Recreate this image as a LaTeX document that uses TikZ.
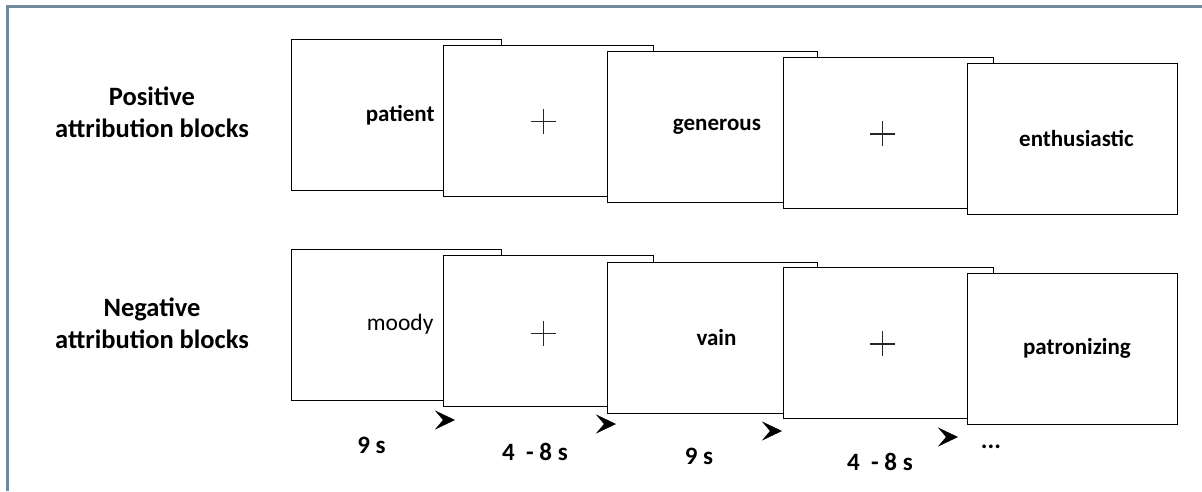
\documentclass[tikz,border=0pt]{standalone}
\usepackage{fontspec}
\setmainfont{Carlito}
\usetikzlibrary{arrows.meta, positioning}
\definecolor{framegray}{HTML}{6F8B99}

\begin{document}
\begin{tikzpicture}[
    x=1pt, y=-1pt,
    slide/.style={draw=black, line width=0.9pt, fill=white, minimum width=210pt, minimum height=151pt, anchor=north west, inner sep=0pt},
    word/.style={font=\fontsize{23}{27}\selectfont\bfseries, inner sep=0pt},
    plainword/.style={font=\fontsize{23.5}{27}\selectfont, inner sep=0pt},
    blocklbl/.style={align=center, font=\fontsize{26.5}{31.6}\selectfont\bfseries, inner sep=0pt},
    timelbl/.style={font=\fontsize{25}{28}\selectfont\bfseries, inner sep=0pt},
    fixline/.style={line width=1.1pt, black!85},
    tick/.style={-{Stealth[length=20pt, width=19pt, inset=8pt]}, line width=0.4pt, black},
]
    \useasboundingbox (0,0) rectangle (1202,491);

    % Frame
    \draw[framegray, line width=3pt] (7,491) -- (7,6) -- (1202,6);

    % Row labels
    \node[blocklbl] (poslbl) at (152,112) {Positive\\attribution blocks};
    \node[blocklbl] (neglbl) at (152,323) {Negative\\attribution blocks};

    % Positive row
    \node[slide] (p1) at (290.7,39) {};
    \node[slide] (p2) at (443,44.5) {};
    \node[slide] (p3) at (606.5,51) {};
    \node[slide] (p4) at (783.3,56.5) {};
    \node[slide] (p5) at (966.5,62.5) {};

    \node[word] (pw1) at ([xshift=4pt]p1.center) {patient};
    \node[word] (pw3) at ([xshift=5pt]p3.center) {generous};
    \node[word] (pw5) at ([xshift=4.5pt]p5.center) {enthusiastic};
    \draw[fixline] ([shift={(-17.5,1)}]p2.center) -- ([shift={(7.5,1)}]p2.center)
                   ([shift={(-5,-11.5)}]p2.center) -- ([shift={(-5,13.5)}]p2.center);
    \draw[fixline] ([shift={(-18.5,1.5)}]p4.center) -- ([shift={(6.5,1.5)}]p4.center)
                   ([shift={(-6,-11)}]p4.center) -- ([shift={(-6,14)}]p4.center);

    % Negative row
    \node[slide] (n1) at (290.7,248.5) {};
    \node[slide] (n2) at (443,254.7) {};
    \node[slide] (n3) at (606.5,261.5) {};
    \node[slide] (n4) at (783.3,266.5) {};
    \node[slide] (n5) at (966.5,272.7) {};

    \node[plainword] (nw1) at ([xshift=4pt]n1.center) {moody};
    \node[word] (nw3) at ([xshift=4.5pt]n3.center) {vain};
    \node[word] (nw5) at ([xshift=5pt]n5.center) {patronizing};
    \draw[fixline] ([shift={(-17.5,3)}]n2.center) -- ([shift={(7.5,3)}]n2.center)
                   ([shift={(-5,-9.5)}]n2.center) -- ([shift={(-5,15.5)}]n2.center);
    \draw[fixline] ([shift={(-18.5,1.5)}]n4.center) -- ([shift={(6.5,1.5)}]n4.center)
                   ([shift={(-6,-11)}]n4.center) -- ([shift={(-6,14)}]n4.center);

    % Timing arrows
    \coordinate (s1) at (443,420);   \coordinate (t1) at (455,420);
    \coordinate (s2) at (604,424);   \coordinate (t2) at (616,424);
    \coordinate (s3) at (770,431);   \coordinate (t3) at (782,431);
    \coordinate (s4) at (946,437);   \coordinate (t4) at (958,437);
    \draw[tick] (s1) -- (t1);
    \draw[tick] (s2) -- (t2);
    \draw[tick] (s3) -- (t3);
    \draw[tick] (s4) -- (t4);

    % Durations
    \node[timelbl] (d1) at (371.5,445) {9 s};
    \node[timelbl] (d2) at (535,451.7) {4\ \ - 8 s};
    \node[timelbl] (d3) at (699,456.7) {9 s};
    \node[timelbl] (d4) at (880,461.7) {4\ \ - 8 s};
    \node[timelbl] (more) at (991,447) {...};

\end{tikzpicture}
\end{document}
